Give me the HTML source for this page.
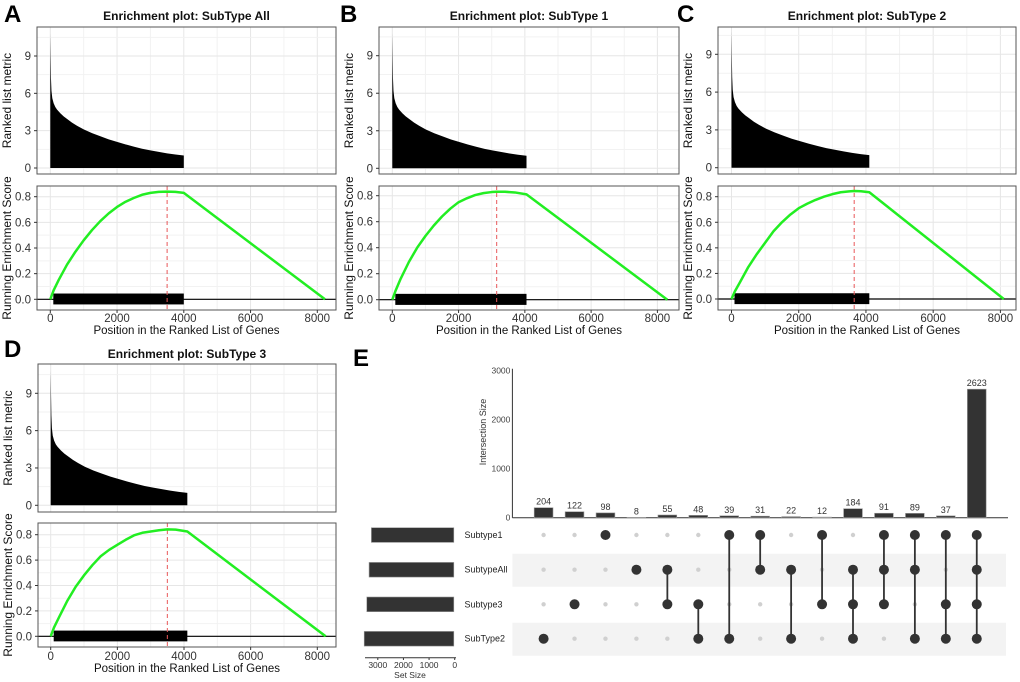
<!DOCTYPE html>
<html><head><meta charset="utf-8"><style>
body{margin:0;background:#fff;}
svg{display:block;font-family:"Liberation Sans",Arial,sans-serif;}
</style></head><body>
<svg id="fig" width="1020" height="682" viewBox="0 0 1020 682"></svg>
<script>
// ---- GSEA data ----
const metricX = [0,10,20,35,60,100,150,200,300,400,500,650,800,1000,1250,1500,1750,2000,2250,2500,2750,3000,3250,3500,3750,4000];
const metricY = [10.8,8.8,7.2,6.2,5.6,5.2,4.9,4.7,4.4,4.15,3.95,3.65,3.4,3.1,2.8,2.55,2.3,2.1,1.9,1.72,1.55,1.42,1.3,1.18,1.08,1.0];
const esA_x = [0,100,250,500,750,1000,1250,1500,1750,2000,2250,2500,2750,3000,3250,3500,3750,4000,8230];
const esA_y = [0,0.07,0.15,0.27,0.37,0.46,0.54,0.61,0.67,0.72,0.76,0.79,0.815,0.83,0.838,0.84,0.838,0.83,0];
const esB_x = [0,100,250,500,750,1000,1250,1500,1750,2000,2250,2500,2750,3000,3150,3400,3700,4050,8300];
const esB_y = [0,0.07,0.16,0.29,0.40,0.49,0.57,0.64,0.70,0.75,0.78,0.805,0.82,0.828,0.83,0.83,0.825,0.81,0];
const esC_x = [0,100,250,500,750,1000,1250,1500,1750,2000,2250,2500,2750,3000,3250,3500,3650,3850,4100,8100];
const esC_y = [0,0.06,0.13,0.25,0.35,0.44,0.53,0.60,0.66,0.71,0.745,0.775,0.80,0.82,0.835,0.842,0.845,0.843,0.835,0];
const esD_x = [0,100,250,500,750,1000,1250,1500,1750,2000,2250,2500,2750,3000,3250,3500,3750,4100,8250];
const esD_y = [0,0.07,0.15,0.28,0.39,0.48,0.56,0.63,0.68,0.72,0.76,0.795,0.815,0.825,0.835,0.842,0.84,0.825,0];
const hitEnd = [4000,4050,4100,4100];
const peakX = [3500,3150,3650,3500];
const titles = ["Enrichment plot: SubType All","Enrichment plot: SubType 1","Enrichment plot: SubType 2","Enrichment plot: SubType 3"];
const letters = ["A","B","C","D"];
const xTicks = [0,2000,4000,6000,8000];
const metricTicks = [0,3,6,9];
const esTicks = [0,0.2,0.4,0.6,0.8];

// ---- UpSet data ----
const setNames = ["Subtype1","SubtypeAll","Subtype3","SubType2"];
const setSizes = [3250,3340,3430,3530];
const interSizes = [204,122,98,8,55,48,39,31,22,12,184,91,89,37,2623];
const interSets = [[3],[2],[0],[1],[1,2],[2,3],[0,3],[0,1],[1,3],[0,2],[1,2,3],[0,1,2],[0,1,3],[0,2,3],[0,1,2,3]];
const interTicks = [0,1000,2000,3000];
const setTicks = [3000,2000,1000,0];

const svg = document.getElementById('fig');
const NS = "http://www.w3.org/2000/svg";
function el(tag, attrs, parent){const e=document.createElementNS(NS,tag);for(const k in attrs)e.setAttribute(k,attrs[k]);(parent||svg).appendChild(e);return e;}
function txt(s, attrs, parent){const e=el('text',attrs,parent);e.textContent=s;return e;}

const geo = [
 {L:37,R:336,x0:50.3,x8:317.3,tT:27,tB:174,m0:168,m9:56,bT:186,bB:310,e0:299.3,e8:196.7,title:16,lx:4,ly:22,tickY:322,xt:334},
 {L:379,R:679,x0:392.3,x8:657.4,tT:27,tB:174,m0:168.3,m9:55.7,bT:186,bB:310,e0:299.7,e8:195.7,title:16,lx:340,ly:22,tickY:322,xt:334},
 {L:718,R:1016,x0:731.5,x8:1000.4,tT:27,tB:174,m0:167.7,m9:54.3,bT:186,bB:310,e0:299,e8:196.7,title:16,lx:677,ly:22,tickY:322,xt:334},
 {L:38,R:336,x0:50.7,x8:317.3,tT:364,tB:512,m0:505.3,m9:393.3,bT:523,bB:647,e0:636.3,e8:534.7,title:354,lx:4,ly:357,tickY:660,xt:672}
];
const esXs=[esA_x,esB_x,esC_x,esD_x], esYs=[esA_y,esB_y,esC_y,esD_y];

geo.forEach((g,i)=>{
  const G = el('g',{});
  
  
  const X = v=>g.x0+(g.x8-g.x0)*v/8000;
  const YM = v=>g.m0+(g.m9-g.m0)*v/9;
  const YE = v=>g.e0+(g.e8-g.e0)*v/0.8;
  const lab = txt(letters[i],{x:g.lx,y:g.ly,'font-size':24,'font-weight':'bold',fill:'#000'},G);
   
  const t = txt(titles[i],{x:(g.L+g.R)/2,y:g.title+4,'font-size':12,'font-weight':'bold','text-anchor':'middle',fill:'#111'},G);
   
  [[g.tT,g.tB],[g.bT,g.bB]].forEach(([a,b])=>{
    for(let v=-1000;v<=9000;v+=1000){const x=X(v);if(x>g.L&&x<g.R)el('line',{x1:x,x2:x,y1:a,y2:b,stroke:v%2000===0?'#e6e6e6':'#f2f2f2','stroke-width':1},G);}
  });
  for(let v=-1.5;v<=12;v+=1.5){const y=YM(v);if(y>g.tT&&y<g.tB)el('line',{x1:g.L,x2:g.R,y1:y,y2:y,stroke:v%3===0?'#e6e6e6':'#f2f2f2'},G);}
  for(let v=-0.1;v<=0.9;v+=0.1){const y=YE(v);if(y>g.bT&&y<g.bB)el('line',{x1:g.L,x2:g.R,y1:y,y2:y,stroke:Math.round(v*10)%2===0?'#e6e6e6':'#f2f2f2'},G);}
  const end=hitEnd[i];
  let d=`M${X(0)},${YM(0)} `;
  metricX.forEach((mx,k)=>{const xx=mx/4000*end; d+=`L${X(xx)},${YM(metricY[k])} `;});
  d+=`L${X(end)},${YM(0)} Z`;
  const ar=el('path',{d,fill:'#000'},G);  
  el('line',{x1:g.L,x2:g.R,y1:YE(0),y2:YE(0),stroke:'#000','stroke-width':1.2},G);
  const hb=el('rect',{x:X(0)+3,y:YE(0.045),width:X(end)-X(0)-3,height:YE(-0.04)-YE(0.045),fill:'#000'},G);
   
  const pk=el('line',{x1:X(peakX[i]),x2:X(peakX[i]),y1:g.bT,y2:g.bB,stroke:'#e8585a','stroke-width':1,'stroke-dasharray':'4,3'},G);
   
  const pts=esXs[i].map((v,k)=>X(v)+','+YE(esYs[i][k])).join(' ');
  const ln=el('polyline',{points:pts,fill:'none',stroke:'#22ee22','stroke-width':2.5,'stroke-linejoin':'round'},G);
   
  el('rect',{x:g.L,y:g.tT,width:g.R-g.L,height:g.tB-g.tT,fill:'none',stroke:'#555','stroke-width':1},G);
  el('rect',{x:g.L,y:g.bT,width:g.R-g.L,height:g.bB-g.bT,fill:'none',stroke:'#555','stroke-width':1},G);
  metricTicks.forEach(v=>{txt(String(v),{x:g.L-6,y:YM(v)+4,'font-size':11.5,'text-anchor':'end',fill:'#333'},G);el('line',{x1:g.L-3,x2:g.L,y1:YM(v),y2:YM(v),stroke:'#333'},G);});
  esTicks.forEach(v=>{txt(v.toFixed(1),{x:g.L-6,y:YE(v)+4,'font-size':11.5,'text-anchor':'end',fill:'#333'},G);el('line',{x1:g.L-3,x2:g.L,y1:YE(v),y2:YE(v),stroke:'#333'},G);});
  xTicks.forEach(v=>{txt(String(v),{x:X(v),y:g.tickY,'font-size':11.5,'text-anchor':'middle',fill:'#333'},G);el('line',{x1:X(v),x2:X(v),y1:g.bB,y2:g.bB+3,stroke:'#333'},G);});
  const xt=txt('Position in the Ranked List of Genes',{x:(g.L+g.R)/2,y:g.xt,'font-size':11.5,'text-anchor':'middle',fill:'#111'},G);
   
  const yc1=(g.tT+g.tB)/2, yc2=(g.bT+g.bB)/2, xx=g.L-26;
  const y1=txt('Ranked list metric',{x:xx,y:yc1,'font-size':12,'text-anchor':'middle',fill:'#111',transform:`rotate(-90 ${xx} ${yc1})`},G);
   
  const y2=txt('Running Enrichment Score',{x:xx,y:yc2,'font-size':12,'text-anchor':'middle',fill:'#111',transform:`rotate(-90 ${xx} ${yc2})`},G);
   
});

(function(){
  const U=el('g',{});
   
  const lab=txt('E',{x:353,y:366,'font-size':24,'font-weight':'bold'},U);
   
  const axL=512.4, axR=1008, y0=517.7, y3=370.7;
  const YI=v=>y0+(y3-y0)*v/3000;
  const CX=k=>543.6+k*30.94;
  const rowsY=[535,569.7,604.3,638.7];
  [1,3].forEach(r=>el('rect',{x:axL,y:rowsY[r]-16,width:axR-axL-2,height:33,fill:'#f3f3f3'},U));
  el('line',{x1:axL,x2:axL,y1:y3-2,y2:y0,stroke:'#333'},U);
  el('line',{x1:axL,x2:axR,y1:y0,y2:y0,stroke:'#333'},U);
  interTicks.forEach(v=>{txt(String(v),{x:axL-2,y:YI(v)+3,'font-size':8.5,'text-anchor':'end',fill:'#444'},U);});
  const yt=txt('Intersection Size',{x:486,y:432,'font-size':9,'text-anchor':'middle',fill:'#333',transform:'rotate(-90 486 432)'},U);
   
  interSizes.forEach((v,k)=>{
    const b=el('rect',{x:CX(k)-9.4,y:YI(v),width:18.8,height:y0-YI(v),fill:'#333',stroke:'#999','stroke-width':0.6},U);
     
    txt(String(v),{x:CX(k),y:YI(v)-3,'font-size':9,'text-anchor':'middle',fill:'#333'},U);
    for(let r=0;r<4;r++) if(!interSets[k].includes(r)) el('circle',{cx:CX(k),cy:rowsY[r],r:2.2,fill:'#d0d0d0'},U);
    const s=interSets[k];
    if(s.length>1) el('line',{x1:CX(k),x2:CX(k),y1:rowsY[Math.min(...s)],y2:rowsY[Math.max(...s)],stroke:'#333','stroke-width':1.8},U);
    s.forEach(r=>{const c=el('circle',{cx:CX(k),cy:rowsY[r],r:5,fill:'#333'},U);});
  });
  const SX=v=>454.7-(454.7-377.8)*v/3000;
  setNames.forEach((n,r)=>{
    const b=el('rect',{x:SX(setSizes[r]),y:rowsY[r]-7.3,width:453.8-SX(setSizes[r]),height:14.7,fill:'#333',stroke:'#999','stroke-width':0.6},U);
     
    const t=txt(n,{x:464.5,y:rowsY[r]+3,'font-size':9,fill:'#222'},U);
     
  });
  el('line',{x1:365,x2:456,y1:657.7,y2:657.7,stroke:'#333'},U);
  setTicks.forEach(v=>{el('line',{x1:SX(v),x2:SX(v),y1:657.7,y2:660,stroke:'#333'},U);txt(String(v),{x:SX(v),y:668,'font-size':8.5,'text-anchor':'middle',fill:'#333'},U);});
  const st=txt('Set Size',{x:410,y:678,'font-size':8.5,'text-anchor':'middle',fill:'#333'},U);
   
})();
</script>
</body></html>
